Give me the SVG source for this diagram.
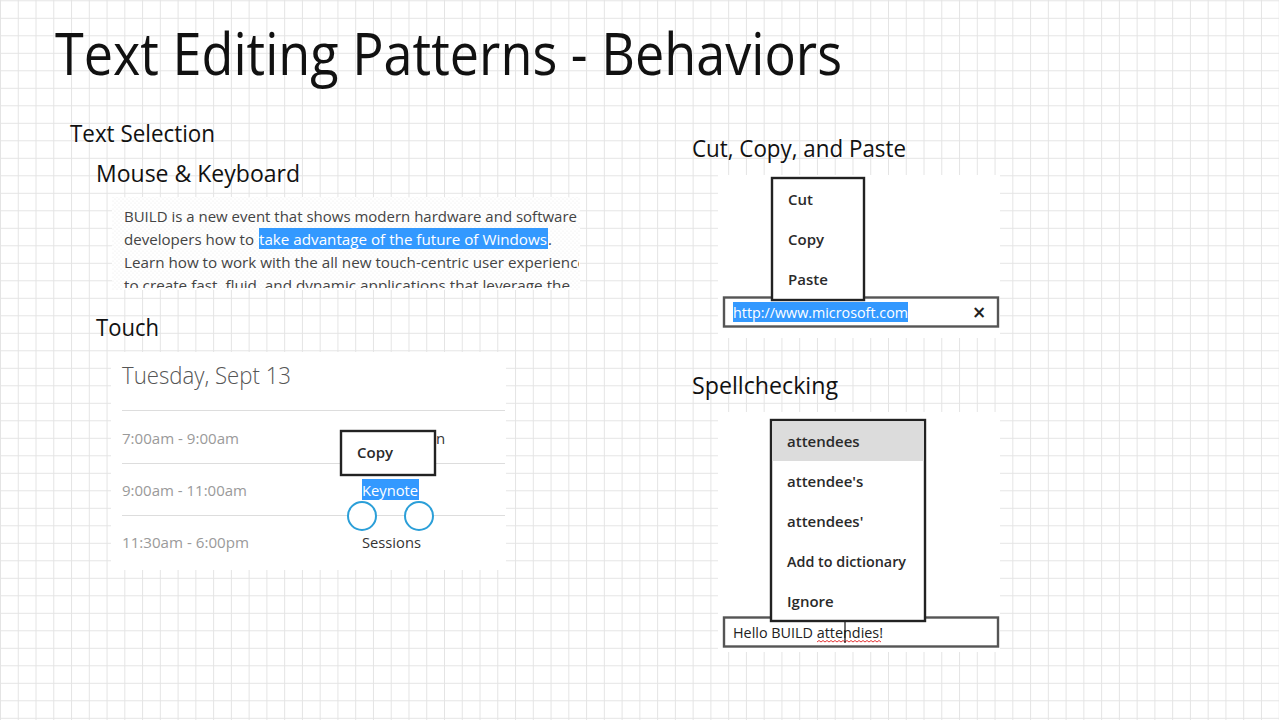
<svg xmlns="http://www.w3.org/2000/svg" width="1279" height="720" viewBox="0 0 1279 720">
<defs>
<pattern id="grid" patternUnits="userSpaceOnUse" x="0" y="0.3" width="17.76" height="17.5">
<path d="M0.5 0 V17.5 M0 0.5 H17.76" fill="none" stroke="#e4e4e4" stroke-width="1"/>
</pattern>
<pattern id="dots" patternUnits="userSpaceOnUse" width="4" height="4">
<rect width="4" height="4" fill="#ffffff"/>
<circle cx="1" cy="1" r="0.6" fill="#ececec"/>
<circle cx="3" cy="3" r="0.6" fill="#ececec"/>
</pattern>
<clipPath id="paraClip"><rect x="112" y="197" width="467" height="91"/></clipPath>
<style>
text{font-family:"Open Sans","Noto Sans","DejaVu Sans",sans-serif;}
.h1{font-size:58px;fill:#111;}
.h2{font-size:24px;fill:#111;}
.para{font-size:15px;fill:#444;}
.sel{fill:#3399ff;}
.selt{font-size:15px;fill:#ffffff;}
.time{font-size:15px;fill:#9a9a9a;}
.menu{fill:#ffffff;stroke:#222;stroke-width:2.4;}
.field{fill:#ffffff;stroke:#555;stroke-width:2.4;}
.item{font-size:15px;font-weight:600;fill:#2a2a2a;}
.sep{stroke:#dddddd;stroke-width:1;}
.panel{fill:#ffffff;}
</style>
</defs>
<rect width="1279" height="720" fill="#ffffff"/>
<rect width="1279" height="720" fill="url(#grid)"/>

<g id="title">
<text class="h1" x="55" y="75" textLength="787" lengthAdjust="spacingAndGlyphs">Text Editing Patterns - Behaviors</text>
</g>

<g id="headings">
<text class="h2" x="70" y="142" textLength="145" lengthAdjust="spacingAndGlyphs">Text Selection</text>
<text class="h2" x="96" y="182" textLength="204" lengthAdjust="spacingAndGlyphs">Mouse &amp; Keyboard</text>
<text class="h2" x="96" y="336" textLength="63" lengthAdjust="spacingAndGlyphs">Touch</text>
<text class="h2" x="692" y="157" textLength="214" lengthAdjust="spacingAndGlyphs">Cut, Copy, and Paste</text>
<text class="h2" x="692" y="394" textLength="146" lengthAdjust="spacingAndGlyphs">Spellchecking</text>
</g>

<g id="mouse-keyboard">
<rect x="112" y="197" width="468" height="93" fill="url(#dots)"/>
<g clip-path="url(#paraClip)">
<rect class="sel" x="259" y="228" width="289" height="21"/>
<text class="para" x="124" y="222" textLength="453" lengthAdjust="spacingAndGlyphs">BUILD is a new event that shows modern hardware and software</text>
<text class="para" x="124" y="245" textLength="130" lengthAdjust="spacingAndGlyphs">developers how to</text>
<text class="selt" x="259" y="245" textLength="288" lengthAdjust="spacingAndGlyphs">take advantage of the future of Windows</text>
<text class="para" x="548" y="245">.</text>
<text class="para" x="124" y="268" textLength="462" lengthAdjust="spacingAndGlyphs">Learn how to work with the all new touch-centric user experience</text>
<text class="para" x="124" y="291" textLength="446" lengthAdjust="spacingAndGlyphs">to create fast, fluid, and dynamic applications that leverage the</text>
</g>
</g>

<g id="touch">
<rect class="panel" x="111" y="352" width="395" height="218"/>
<text x="122" y="384" font-size="24" font-weight="300" fill="#555" textLength="169" lengthAdjust="spacingAndGlyphs">Tuesday, Sept 13</text>
<line class="sep" x1="122" y1="410.5" x2="505" y2="410.5"/>
<line class="sep" x1="122" y1="463.5" x2="505" y2="463.5"/>
<line class="sep" x1="122" y1="515.5" x2="505" y2="515.5"/>
<text class="time" x="122" y="444" textLength="117" lengthAdjust="spacingAndGlyphs">7:00am - 9:00am</text>
<text class="time" x="122" y="496" textLength="125" lengthAdjust="spacingAndGlyphs">9:00am - 11:00am</text>
<text class="time" x="122" y="548" textLength="127" lengthAdjust="spacingAndGlyphs">11:30am - 6:00pm</text>
<text x="436" y="444" font-size="15" fill="#333">n</text>
<g id="touch-copy-menu">
<rect class="menu" x="341" y="431" width="94" height="44"/>
<text class="item" x="357" y="458">Copy</text>
</g>
<rect class="sel" x="362" y="479" width="57" height="21"/>
<text class="selt" x="362" y="496" textLength="56" lengthAdjust="spacingAndGlyphs">Keynote</text>
<circle cx="362" cy="516" r="14" fill="#ffffff" stroke="#2b9fd8" stroke-width="2"/>
<circle cx="419" cy="516" r="14" fill="#ffffff" stroke="#2b9fd8" stroke-width="2"/>
<text x="362" y="548" font-size="15" fill="#333" textLength="59" lengthAdjust="spacingAndGlyphs">Sessions</text>
</g>

<g id="cut-copy-paste">
<rect class="panel" x="718" y="175" width="282" height="163"/>
<g id="url-field">
<rect class="field" x="724" y="297.5" width="274" height="29"/>
<rect class="sel" x="733" y="302" width="175" height="20"/>
<text class="selt" x="733" y="318" textLength="175" lengthAdjust="spacingAndGlyphs">http://www.microsoft.com</text>
<text x="979" y="318" font-size="17" font-weight="bold" fill="#222" text-anchor="middle" style="font-family:'DejaVu Sans',sans-serif">×</text>
</g>
<g id="clipboard-menu">
<rect class="menu" x="772" y="178" width="92" height="122"/>
<text class="item" x="788" y="205">Cut</text>
<text class="item" x="788" y="245">Copy</text>
<text class="item" x="788" y="285">Paste</text>
</g>
</g>

<g id="spellchecking">
<rect class="panel" x="718" y="412" width="282" height="240"/>
<g id="spell-field">
<rect class="field" x="724" y="617.5" width="274" height="29"/>
<text x="733" y="638" font-size="15" fill="#222" textLength="150" lengthAdjust="spacingAndGlyphs">Hello BUILD attendies!</text>
<path d="M817 642 l2 -1.5 l2 1.5 l2 -1.5 l2 1.5 l2 -1.5 l2 1.5 l2 -1.5 l2 1.5 l2 -1.5 l2 1.5 l2 -1.5 l2 1.5 l2 -1.5 l2 1.5 l2 -1.5 l2 1.5 l2 -1.5 l2 1.5 l2 -1.5 l2 1.5 l2 -1.5 l2 1.5 l2 -1.5 l2 1.5 l2 -1.5 l2 1.5 l2 -1.5 l2 1.5 l2 -1.5 l2 1.5 l2 -1.5 l2 1.5" fill="none" stroke="#e02020" stroke-width="0.9"/>
<line x1="845" y1="621" x2="845" y2="643" stroke="#111" stroke-width="1.2"/>
</g>
<g id="spell-menu">
<rect class="menu" x="771" y="420" width="154" height="201"/>
<rect x="772.2" y="421.2" width="151.6" height="39.8" fill="#dcdcdc"/>
<text class="item" x="787" y="447">attendees</text>
<text class="item" x="787" y="487">attendee's</text>
<text class="item" x="787" y="527">attendees'</text>
<text class="item" x="787" y="567" textLength="119" lengthAdjust="spacingAndGlyphs">Add to dictionary</text>
<text class="item" x="787" y="607">Ignore</text>
</g>
</g>

<g id="connectors"></g>
</svg>
